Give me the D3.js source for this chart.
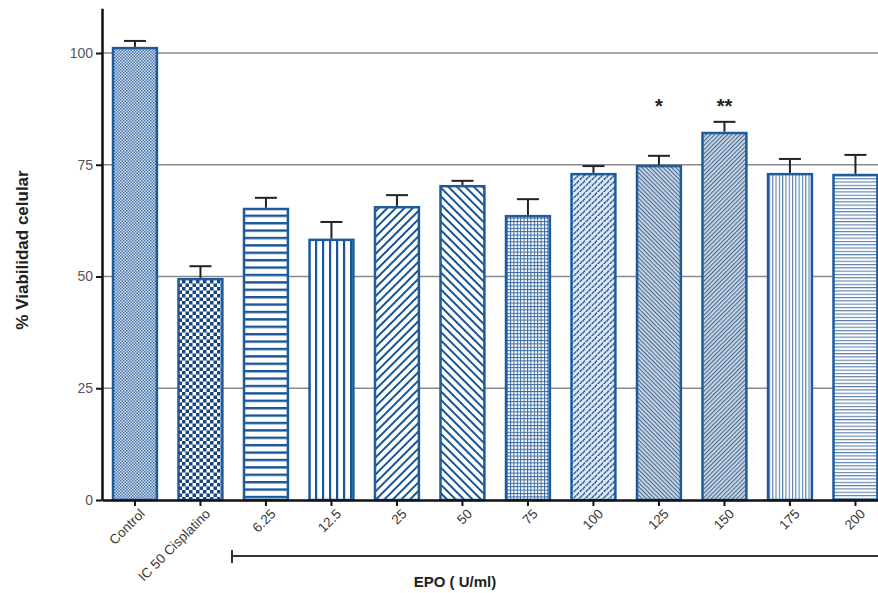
<!DOCTYPE html>
<html><head><meta charset="utf-8">
<script src="https://cdn.jsdelivr.net/npm/d3@7"></script>
<style>body{margin:0;background:#fff}svg{display:block}</style>
</head><body>
<svg id="c" width="878" height="593"></svg>
<script>
// ---- data ----
const categories = ["Control","IC 50 Cisplatino","6.25","12.5","25","50","75","100","125","150","175","200"];
const means      = [101.1, 49.4, 65.1, 58.2, 65.5, 70.2, 63.5, 72.9, 74.7, 82.1, 72.9, 72.7];
const errors     = [1.6, 2.9, 2.5, 4.0, 2.7, 1.2, 3.8, 1.8, 2.3, 2.5, 3.4, 4.5];
const significance = ["","","","","","","","","*","**","",""];
const yTicks = [0, 25, 50, 75, 100];
const yLabel = "% Viabilidad celular";
const groupLabel = "EPO ( U/ml)";

// ---- layout ----
const W = 878, H = 593;
const svg = d3.select("#c");
const font = "'Liberation Sans', Arial, sans-serif";
const y = d3.scaleLinear().domain([0, 110]).range([500, 8.3]);
const x = d3.scaleBand().domain(categories).range([102, 888.4]).paddingInner(0.33).paddingOuter(0.168);
const blue = "#1d5b9e";

// ---- patterns ----
const defs = svg.append("defs");
function pattern(id, w, h, transform, draw) {
  const p = defs.append("pattern").attr("id", id).attr("patternUnits", "userSpaceOnUse")
    .attr("width", w).attr("height", h);
  if (transform) p.attr("patternTransform", transform);
  draw(p, w, h);
}
const bg = (p, w, h, c) => p.append("rect").attr("width", w).attr("height", h).attr("fill", c);
// 0 Control: fine checker
pattern("p0", 3, 3, null, (p, w, h) => {
  bg(p, w, h, "#d3e0ee");
  p.append("rect").attr("width", 1.5).attr("height", 1.5).attr("fill", "#4775ab");
  p.append("rect").attr("x", 1.5).attr("y", 1.5).attr("width", 1.5).attr("height", 1.5).attr("fill", "#4775ab");
});
// 1 IC50: coarse checker
pattern("p1", 7, 7, null, (p, w, h) => {
  bg(p, w, h, "#ffffff");
  p.append("rect").attr("width", 3.5).attr("height", 3.5).attr("fill", "#17467f");
  p.append("rect").attr("x", 3.5).attr("y", 3.5).attr("width", 3.5).attr("height", 3.5).attr("fill", "#17467f");
});
// 2 horizontal lines
pattern("p2", 10, 7.4, null, (p, w, h) => {
  bg(p, w, h, "#ffffff");
  p.append("rect").attr("width", w).attr("height", 2.4).attr("fill", "#1a5595");
});
// 3 vertical lines
pattern("p3", 7, 10, null, (p, w, h) => {
  bg(p, w, h, "#ffffff");
  p.append("rect").attr("width", 2.2).attr("height", h).attr("fill", "#1a5595");
});
// 4 ascending diagonal
pattern("p4", 10, 6, "rotate(-45)", (p, w, h) => {
  bg(p, w, h, "#ffffff");
  p.append("rect").attr("width", w).attr("height", 2).attr("fill", "#1a5595");
});
// 5 descending diagonal
pattern("p5", 10, 6, "rotate(45)", (p, w, h) => {
  bg(p, w, h, "#ffffff");
  p.append("rect").attr("width", w).attr("height", 2).attr("fill", "#1a5595");
});
// 6 fine grid
pattern("p6", 3.4, 3.4, null, (p, w, h) => {
  bg(p, w, h, "#ffffff");
  p.append("rect").attr("width", w).attr("height", 1).attr("fill", "#3567a2");
  p.append("rect").attr("width", 1).attr("height", h).attr("fill", "#3567a2");
});
// 7 diagonal dashes
pattern("p7", 6, 6, null, (p, w, h) => {
  bg(p, w, h, "#dde7f2");
  p.append("path").attr("d", "M0.5,3.5L3,0.5M3.5,6.5L6,3.5M-2.5,6.5L0,3.5").attr("stroke", "#2b5f9c").attr("stroke-width", 1.4);
});
// 8 fine descending
pattern("p8", 10, 3, "rotate(45)", (p, w, h) => {
  bg(p, w, h, "#d3dce6");
  p.append("rect").attr("width", w).attr("height", 1.2).attr("fill", "#4a6e98");
});
// 9 fine ascending
pattern("p9", 10, 3, "rotate(-45)", (p, w, h) => {
  bg(p, w, h, "#d3dce6");
  p.append("rect").attr("width", w).attr("height", 1.2).attr("fill", "#4a6e98");
});
// 10 fine vertical
pattern("p10", 3.3, 10, null, (p, w, h) => {
  bg(p, w, h, "#ffffff");
  p.append("rect").attr("width", 1.1).attr("height", h).attr("fill", "#5a7fab");
});
// 11 fine horizontal
pattern("p11", 10, 3.3, null, (p, w, h) => {
  bg(p, w, h, "#ffffff");
  p.append("rect").attr("width", w).attr("height", 1.1).attr("fill", "#5a7fab");
});

// ---- gridlines ----
svg.append("g").selectAll("line").data(yTicks.filter(d => d > 0)).join("line")
  .attr("x1", 102).attr("x2", W).attr("y1", d => y(d)).attr("y2", d => y(d))
  .attr("stroke", "#8a8a8a").attr("stroke-width", 1.5);

// ---- bars ----
const data = categories.map((c, i) => ({c, v: means[i], e: errors[i], s: significance[i], i}));
svg.append("g").selectAll("rect").data(data).join("rect")
  .attr("x", d => x(d.c)).attr("width", x.bandwidth())
  .attr("y", d => y(d.v)).attr("height", d => y(0) - y(d.v))
  .attr("fill", d => `url(#p${d.i})`).attr("stroke", blue).attr("stroke-width", 2.5);

// ---- error bars ----
const eb = svg.append("g").attr("stroke", "#222").attr("stroke-width", 2);
eb.selectAll(".v").data(data).join("line").attr("class", "v")
  .attr("x1", d => x(d.c) + x.bandwidth() / 2).attr("x2", d => x(d.c) + x.bandwidth() / 2)
  .attr("y1", d => y(d.v) - 1.25).attr("y2", d => y(d.v + d.e));
eb.selectAll(".h").data(data).join("line").attr("class", "h")
  .attr("x1", d => x(d.c) + x.bandwidth() / 2 - 11).attr("x2", d => x(d.c) + x.bandwidth() / 2 + 11)
  .attr("y1", d => y(d.v + d.e)).attr("y2", d => y(d.v + d.e));

// ---- significance stars ----
const starLevel = 86.5;
svg.append("g").selectAll("text").data(data.filter(d => d.s)).join("text")
  .attr("x", d => x(d.c) + x.bandwidth() / 2).attr("y", y(starLevel))
  .attr("text-anchor", "middle").attr("font-family", font).attr("font-weight", "bold")
  .attr("font-size", 20).attr("fill", "#222").text(d => d.s);

// ---- axes ----
const yAxis = svg.append("g").attr("transform", "translate(102,0)")
  .call(d3.axisLeft(y).tickValues(yTicks).tickSize(6).tickSizeOuter(0).tickPadding(3));
yAxis.select(".domain").attr("stroke", "#111").attr("stroke-width", 2.5);
yAxis.selectAll(".tick line").attr("stroke", "#111").attr("stroke-width", 2);
yAxis.selectAll(".tick text").attr("font-family", font).attr("font-size", 14).attr("fill", "#555");

const xAxis = svg.append("g").attr("transform", "translate(0,500)")
  .call(d3.axisBottom(x).tickSize(6).tickSizeOuter(0));
xAxis.select(".domain").attr("stroke", "#111").attr("stroke-width", 2.5);
xAxis.selectAll(".tick line").attr("stroke", "#111").attr("stroke-width", 2);
xAxis.selectAll(".tick text").attr("font-family", font).attr("font-size", 13.5).attr("fill", "#3a3a3a")
  .attr("text-anchor", "end").attr("transform", "translate(4,8) rotate(-45)").attr("dy", "0.7em").attr("y", 0);

// ---- y label ----
svg.append("text").attr("transform", "translate(28,250) rotate(-90)")
  .attr("text-anchor", "middle").attr("font-family", font).attr("font-weight", "bold")
  .attr("font-size", 17).attr("fill", "#222").text(yLabel);

// ---- EPO bracket ----
const bx0 = x(categories[2]) - 12;
svg.append("line").attr("x1", bx0).attr("x2", W).attr("y1", 556).attr("y2", 556)
  .attr("stroke", "#333").attr("stroke-width", 2);
svg.append("line").attr("x1", bx0).attr("x2", bx0).attr("y1", 550).attr("y2", 563)
  .attr("stroke", "#333").attr("stroke-width", 2);
svg.append("text").attr("x", 455).attr("y", 587).attr("text-anchor", "middle")
  .attr("font-family", font).attr("font-weight", "bold").attr("font-size", 15).attr("fill", "#222")
  .text(groupLabel);
</script>
</body></html>
